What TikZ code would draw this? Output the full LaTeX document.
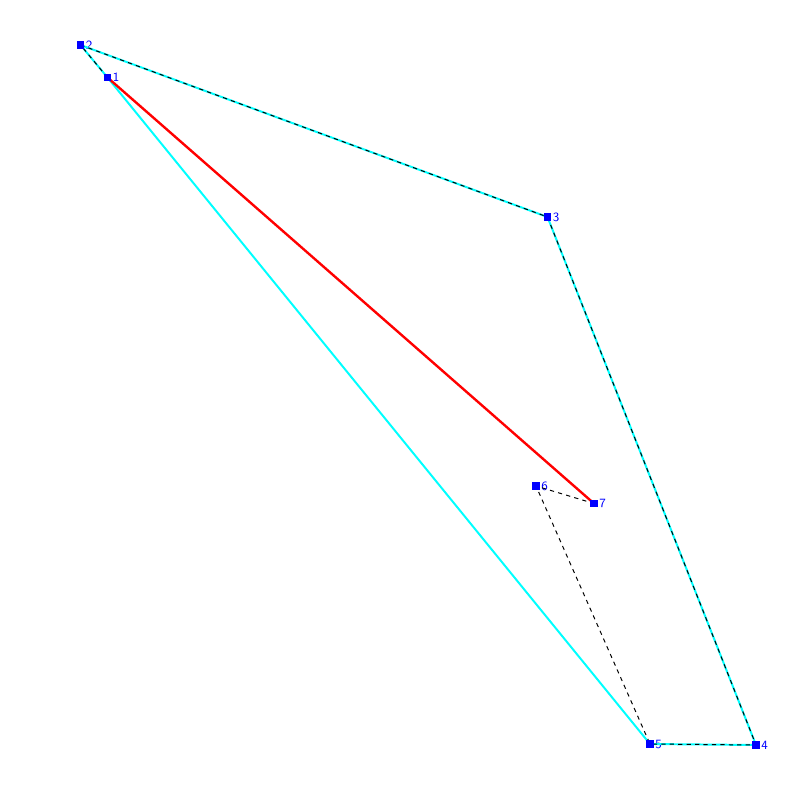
\documentclass[tikz,border=0pt]{standalone}
\usetikzlibrary{positioning}
\definecolor{hullcyan}{RGB}{0,255,255}
\definecolor{ptblue}{RGB}{0,0,255}
\definecolor{pathred}{RGB}{255,0,0}
\begin{document}
\begin{tikzpicture}[x=0.025cm, y=-0.025cm,
    every node/.style={rectangle, fill=ptblue, inner sep=0pt, minimum size=5pt},
    every label/.style={fill=none, text=ptblue, font=\sffamily\small, inner sep=1pt, label distance=0pt}]
        \useasboundingbox (0,0) rectangle (800,800);
        \node[label=right:{1}] (1) at (107.5, 77.5) {};
        \node[label=right:{2}] (2) at (80.5, 45) {};
        \node[label=right:{3}] (3) at (547.5, 217) {};
        \node[label=right:{4}] (4) at (756, 745) {};
        \node[label=right:{5}] (5) at (650, 744) {};
        \node[label=right:{6}] (6) at (536, 486) {};
        \node[label=right:{7}] (7) at (594, 503.5) {};
        \draw[hullcyan, line width=1.4pt] (1.center) -- (2.center) -- (3.center) -- (4.center) -- (5.center) -- cycle;
        \draw[dashed, line width=0.7pt] (1.center) -- (2.center) -- (3.center) -- (4.center) -- (5.center) -- (6.center) -- (7.center);
        \draw[pathred, line width=1.7pt] (1.center) -- (7.center);
        \foreach \n in {1,...,7} \node at (\n) {};
    \end{tikzpicture}
\end{document}
